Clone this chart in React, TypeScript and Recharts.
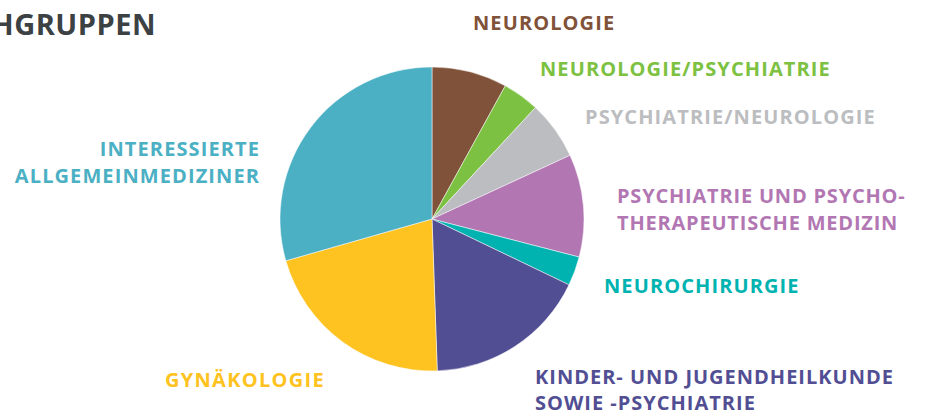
import { PieChart, Pie, Cell } from 'recharts';

// Fachgruppen, clockwise from 12 o'clock
const names = [
    'NEUROLOGIE',
    'NEUROLOGIE/PSYCHIATRIE',
    'PSYCHIATRIE/NEUROLOGIE',
    'PSYCHIATRIE UND PSYCHO-|THERAPEUTISCHE MEDIZIN',
    'NEUROCHIRURGIE',
    'KINDER- UND JUGENDHEILKUNDE|SOWIE -PSYCHIATRIE',
    'GYNÄKOLOGIE',
    'INTERESSIERTE|ALLGEMEINMEDIZINER',
];
const shares = [8.0, 3.9, 6.2, 10.9, 3.1, 17.3, 21.1, 29.4];
const colors = ['#7F5239', '#7DC142', '#BBBDC0', '#B277B3', '#00B3B1', '#524E93', '#FEC221', '#4BB0C4'];

// where each label sits (layout only)
const labelLayout = [
    { x: 473, y: 30, anchor: 'start', lh: 27, ls: 1.1 },
    { x: 540, y: 76, anchor: 'start', lh: 27, ls: 1.1 },
    { x: 585, y: 124, anchor: 'start', lh: 27, ls: 1.1 },
    { x: 617, y: 203, anchor: 'start', lh: 27, ls: 0.8 },
    { x: 604, y: 293, anchor: 'start', lh: 27, ls: 1.1 },
    { x: 535, y: 384, anchor: 'start', lh: 26, ls: 1.0 },
    { x: 165, y: 387, anchor: 'start', lh: 27, ls: 1.3 },
    { x: 260, y: 156, anchor: 'end', lh: 27, ls: 1.1 },
];

const data = names.map((name, i) => ({ name, value: shares[i] }));

const FONT = '"Open Sans", sans-serif';

const renderLabel = (props: any) => {
    const { index } = props;
    const pos = labelLayout[index];
    const lines = names[index].split('|');
    return (
        <text
            key={`lbl-${index}`}
            x={pos.x}
            y={pos.y}
            textAnchor={pos.anchor}
            fill={colors[index]}
            fontFamily={FONT}
            fontWeight={700}
            fontSize={20}
            letterSpacing={pos.ls}
        >
            {lines.map((line, j) => (
                <tspan key={j} x={pos.x} dy={j === 0 ? 0 : pos.lh}>
                    {line}
                </tspan>
            ))}
        </text>
    );
};

export default function App() {
    return (
        <div style={{ position: 'absolute', left: 0, top: 0, width: 925, height: 412, background: '#fff' }}>
            <PieChart width={925} height={412} margin={{ top: 0, right: 0, bottom: 0, left: 0 }}>
                <text x={156} y={35} textAnchor="end" fill="#3C4143" fontFamily={FONT} fontWeight={700} fontSize={29} letterSpacing={0.5}>
                    FACHGRUPPEN
                </text>
                <Pie
                    data={data}
                    dataKey="value"
                    nameKey="name"
                    cx={432}
                    cy={219}
                    outerRadius={152}
                    startAngle={90}
                    endAngle={-270}
                    stroke="#ffffff"
                    strokeWidth={0.5}
                    label={renderLabel}
                    labelLine={false}
                    isAnimationActive={false}
                >
                    {data.map((d, i) => (
                        <Cell key={d.name} fill={colors[i]} />
                    ))}
                </Pie>
            </PieChart>
        </div>
    );
}
